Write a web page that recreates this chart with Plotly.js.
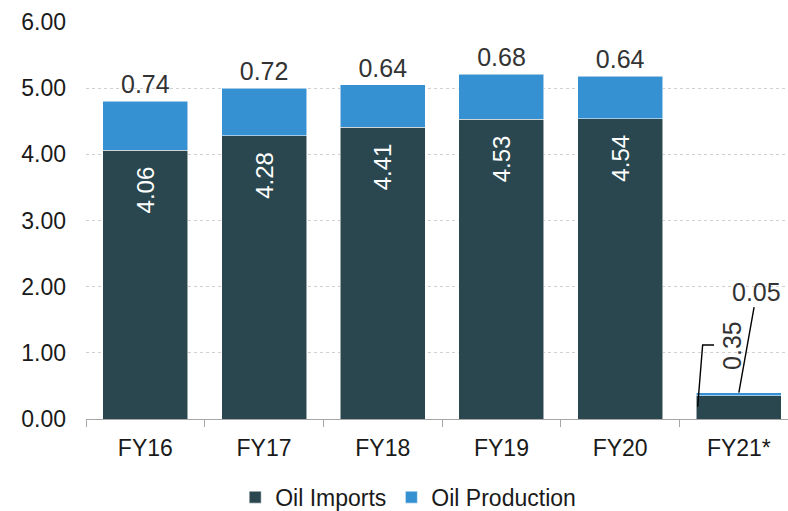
<!DOCTYPE html>
<html>
<head>
<meta charset="utf-8">
<script src="https://cdn.plot.ly/plotly-3.0.1.min.js"></script>
<style>html,body{margin:0;padding:0;background:#fff;overflow:hidden}</style>
</head>
<body>
<div id="chart" style="width:788px;height:511px"></div>
<script>
// ---- data ----
const categories = ['FY16', 'FY17', 'FY18', 'FY19', 'FY20', 'FY21*'];
const oilImports = [4.06, 4.28, 4.41, 4.53, 4.54, 0.35];
const oilProduction = [0.74, 0.72, 0.64, 0.68, 0.64, 0.05];
const yTicks = [0, 1, 2, 3, 4, 5, 6];
const calloutIndex = 5; // FY21* labels are drawn as callouts

// ---- styles ----
const FONT = 'Liberation Sans, Arial, sans-serif';
const DARK = '#2a474f';
const BLUE = '#3591d1';

const importsText = oilImports.map((v, i) => i === calloutIndex ? '' : v.toFixed(2) + '\u00a0\u00a0');
const productionText = oilProduction.map((v, i) => i === calloutIndex ? '' : v.toFixed(2));

const traces = [
  {
    type: 'bar', name: 'Oil Imports', x: categories, y: oilImports,
    marker: {color: DARK, line: {color: 'rgba(255,255,255,0.7)', width: 0.75}},
    text: importsText, textposition: 'inside', insidetextanchor: 'end',
    textangle: -90, textfont: {family: FONT, size: 24, color: '#ffffff'},
    hoverinfo: 'skip'
  },
  {
    type: 'bar', name: 'Oil Production', x: categories, y: oilProduction,
    marker: {color: BLUE, line: {color: 'rgba(255,255,255,0.7)', width: 0.75}},
    text: productionText, textposition: 'outside', cliponaxis: false,
    textfont: {family: FONT, size: 25, color: '#333333'},
    hoverinfo: 'skip'
  }
];

const cat = categories[calloutIndex];
const layout = {
  width: 788, height: 511,
  margin: {l: 86, r: 0, t: 22, b: 92, pad: 0},
  paper_bgcolor: '#ffffff', plot_bgcolor: '#ffffff',
  barmode: 'stack', bargap: 0.284,
  font: {family: FONT, size: 23, color: '#1a1a1a'},
  showlegend: true,
  legend: {
    orientation: 'h', xref: 'container', yref: 'container',
    x: 0.518, xanchor: 'center', y: 0.027, yanchor: 'middle',
    font: {family: FONT, size: 23, color: '#1a1a1a'},
    itemwidth: 30, traceorder: 'normal'
  },
  xaxis: {
    type: 'category', range: [-0.5, 5.414],
    showline: true, linecolor: '#a6a6a6', linewidth: 1,
    ticks: 'outside', tickson: 'boundaries', ticklen: 7, tickcolor: '#a6a6a6',
    showgrid: false, zeroline: false, ticklabelstandoff: 8,
    tickfont: {family: FONT, size: 23, color: '#1a1a1a'}
  },
  yaxis: {
    range: [0, 6], tickvals: yTicks, tickformat: '.2f',
    showgrid: true, gridcolor: '#d0d0d0', griddash: 'dot', gridwidth: 1,
    zeroline: false, showline: false, ticks: '', ticklabelstandoff: 19,
    tickfont: {family: FONT, size: 23, color: '#1a1a1a'}
  },
  annotations: [
    {
      x: cat, y: oilImports[calloutIndex] + oilProduction[calloutIndex],
      xref: 'x', yref: 'y',
      text: oilProduction[calloutIndex].toFixed(2),
      showarrow: true, arrowhead: 0, arrowwidth: 1.4, arrowcolor: '#000000',
      ax: 18, ay: -101, standoff: 0,
      font: {family: FONT, size: 25, color: '#333333'}
    },
    {
      x: cat, y: 1.118, xref: 'x', yref: 'y', xshift: -7,
      text: oilImports[calloutIndex].toFixed(2), textangle: -90,
      showarrow: false,
      font: {family: FONT, size: 25, color: '#333333'}
    }
  ],
  shapes: [
    {
      type: 'path', xref: 'paper', yref: 'y',
      path: 'M 0.8713,0.186 L 0.8784,1.118 L 0.8946,1.118',
      line: {color: '#000000', width: 1.4}
    }
  ]
};

Plotly.newPlot('chart', traces, layout, {displayModeBar: false, staticPlot: true});
</script>
</body>
</html>
